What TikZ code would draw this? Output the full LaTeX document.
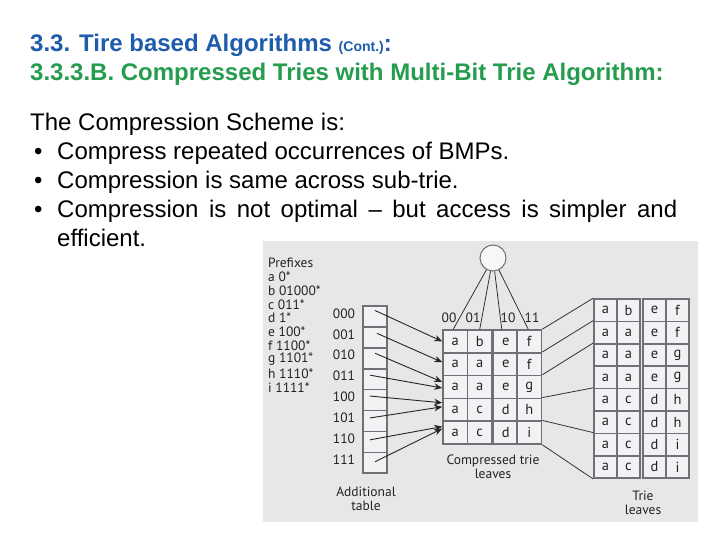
\documentclass[tikz,border=0pt]{standalone}
\usepackage{fontspec}
\setmainfont{Liberation Sans}
\newfontfamily\figfont{PT Sans}
\usetikzlibrary{arrows.meta,calc}
\definecolor{ttlblue}{RGB}{30,92,172}
\definecolor{ttlgreen}{RGB}{38,156,78}
\definecolor{figbg}{RGB}{231,231,231}
\definecolor{cellfill}{RGB}{242,242,245}
\definecolor{cellline}{RGB}{112,112,118}
\definecolor{figink}{RGB}{35,35,35}
\begin{document}
\begin{tikzpicture}[x=1pt,y=-1pt,
  heading/.style={anchor=base west,inner sep=0pt,font=\bfseries\fontsize{24}{24}\selectfont},
  body/.style={anchor=base west,inner sep=0pt,font=\fontsize{24}{24}\selectfont},
  cell/.style={draw=cellline,line width=1.6pt,fill=cellfill,inner sep=0pt,
    text=figink,font=\figfont\fontsize{14.5}{14.5}\selectfont},
  ccell/.style={cell,minimum width=24.5pt,minimum height=22.8pt},
  tcell/.style={cell,minimum width=23pt,minimum height=22.4pt},
  acell/.style={cell,minimum width=24pt,minimum height=20.9pt},
  figtext/.style={inner sep=0pt,text=figink,font=\figfont\fontsize{13.5}{13.5}\selectfont},
  arr/.style={draw=black!85,line width=0.9pt,-{Stealth[length=8pt,width=6.5pt]}},
  link/.style={draw=black!80,line width=0.8pt}]
\useasboundingbox (0,0) rectangle (720,540);
\fill[white] (0,0) rectangle (720,540);

% headings
\node[heading,text=ttlblue] (h1) at (30,52) {3.3. Tire based Algorithms {\fontsize{14}{14}\selectfont(Cont.)}:};
\node[heading,text=ttlgreen] (h2) at (30,81) {3.3.3.B. Compressed Tries with Multi-Bit Trie Algorithm:};

% body
\node[body] (b0) at (30,131) {The Compression Scheme is:};
\node[body] (d1) at (34,160) {•};
\node[body] (b1) at (57,160) {Compress repeated occurrences of BMPs.};
\node[body] (d2) at (34,189) {•};
\node[body] (b2) at (57,189) {Compression is same across sub-trie.};
\node[body] (d3) at (34,218) {•};
\node[body] (b3) at (57,218) {\makebox[620pt][s]{Compression is not optimal – but access is simpler and}};
\node[body] (b4) at (57,247) {efficient.};

% figure background
\fill[figbg] (263,241) rectangle (698,522);

% prefixes
\node[figtext,anchor=west] (pf) at (268,263) {Prefixes};
\foreach \n/\p [count=\i] in {a/0*,b/01000*,c/011*,d/1*,e/100*,f/1100*,g/1101*,h/1110*,i/1111*}{
  \node[figtext,anchor=west] (pf\i) at (268,{263+13.8*\i}) {\n\ \p};
}

% additional table
\foreach \lab [count=\i] in {000,001,010,011,100,101,110,111}{
  \node[acell] (t\i) at (375,{306+20.9*(\i-0.5)}) {};
  \node[figtext] (tl\i) at (344,{306+20.9*(\i-0.5)-3}) {\lab};
}
\node[figtext,align=center] (tcap) at (366,499) {Additional\\table};

% compressed trie leaves
\foreach \r/\row in {1/{a,b,e,f},2/{a,a,e,f},3/{a,a,e,g},4/{a,c,d,h},5/{a,c,d,i}}{
  \foreach \t [count=\c] in \row {
    \pgfmathsetmacro{\xx}{{455.25,479.75,505.75,529.25}[\c-1]}
    \node[ccell] (c-\r-\c) at (\xx,{330+22.8*(\r-0.5)}) {\t};
  }
}
\node[figtext,align=center] (ccap) at (493,467) {Compressed trie\\leaves};

% trie leaves
\foreach \r/\row in {1/{a,b,e,f},2/{a,a,e,f},3/{a,a,e,g},4/{a,a,e,g},5/{a,c,d,h},6/{a,c,d,h},7/{a,c,d,i},8/{a,c,d,i}}{
  \foreach \t [count=\c] in \row {
    \pgfmathsetmacro{\xx}{{605.5,628.5,654.5,677.5}[\c-1]}
    \node[tcell] (l-\r-\c) at (\xx,{299+22.4*(\r-0.5)}) {\t};
  }
}
\node[figtext,align=center] (lcap) at (643,503) {Trie\\leaves};

% root
\node[circle,draw=cellline,line width=1pt,fill=white!94!gray,minimum size=26pt,inner sep=0pt] (root) at (493,258) {};
\draw[link] (root) -- ([xshift=-2pt]c-1-1.north);
\draw[link] (root) -- (c-1-2.north);
\draw[link] (root) -- ([xshift=-4pt]c-1-3.north);
\draw[link] (root) -- ([xshift=-1pt]c-1-4.north);
\node[figtext] (e00) at (449,318) {00};
\node[figtext] (e01) at (473,318) {01};
\node[figtext] (e10) at (508,318) {10};
\node[figtext] (e11) at (532,318) {11};

% arrows from additional table
\draw[arr] ([shift={(0,-6)}]t1.center) -- ([shift={(0,0)}]c-1-1.west);
\draw[arr] ([shift={(2,-4)}]t2.center) -- ([shift={(0,-2)}]c-2-1.west);
\draw[arr] ([shift={(0,-5)}]t3.center) -- ([shift={(0,-5)}]c-3-1.west);
\draw[arr] ([shift={(-5,-4)}]t4.center) -- ([shift={(0,1)}]c-3-1.west);
\draw[arr] ([shift={(-5,-4)}]t5.center) -- ([shift={(0,-7)}]c-4-1.west);
\draw[arr] ([shift={(-5,-3)}]t6.center) -- ([shift={(0,-3)}]c-4-1.west);
\draw[arr] ([shift={(-5,-2)}]t7.center) -- ([shift={(0,-6)}]c-5-1.west);
\draw[arr] ([shift={(0,-1)}]t8.center) -- ([shift={(0,-4)}]c-5-1.west);

% links compressed -> trie leaves
\draw[link] (c-1-4.north east) -- (l-1-1.north west);
\draw[link] (c-2-4.north east) -- (l-2-1.north west);
\draw[link] (c-3-4.north east) -- (l-3-1.north west);
\draw[link] (c-4-4.north east) -- (l-5-1.north west);
\draw[link] (c-5-4.north east) -- (l-7-1.north west);
\draw[link] (c-5-4.south east) -- (l-8-1.south west);
\end{tikzpicture}
\end{document}
